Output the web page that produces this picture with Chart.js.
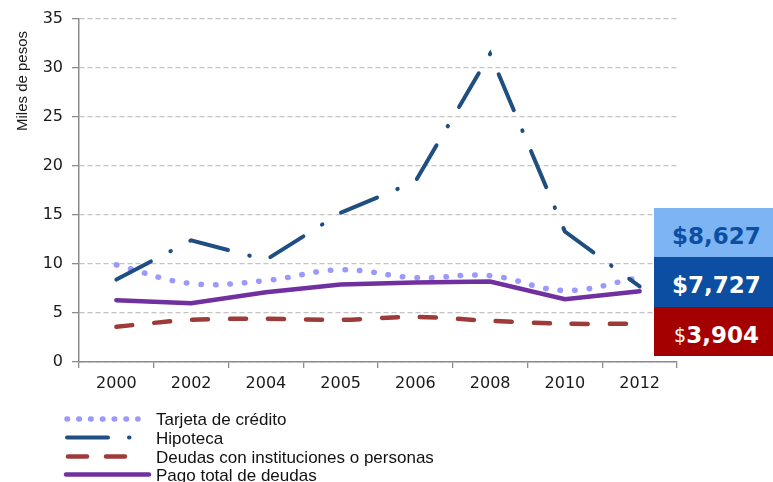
<!DOCTYPE html>
<html>
<head>
<meta charset="utf-8">
<script src="https://cdn.jsdelivr.net/npm/chart.js@4"></script>
<style>
html,body{margin:0;padding:0;background:#fff;}
#wrap{position:relative;width:773px;height:482px;overflow:hidden;}
canvas{position:absolute;left:0;top:0;}
.box{position:absolute;left:654px;width:119px;display:flex;align-items:center;justify-content:center;font-family:'DejaVu Sans',Verdana,sans-serif;font-weight:bold;font-size:23px;box-sizing:border-box;padding-top:6px;padding-left:6px;}
.small{font-weight:normal;font-size:19px;}
</style>
</head>
<body>
<div id="wrap">
<canvas id="c" width="773" height="482"></canvas>
<div class="box" style="top:208px;height:49px;background:#7db4f3;color:#0b4ea2;">$8,627</div>
<div class="box" style="top:257px;height:50px;background:#0b4ea2;color:#ffffff;">$7,727</div>
<div class="box" style="top:307px;height:49px;background:#a50000;color:#ffffff;"><span class="small">$</span>3,904</div>
</div>
<script>
// ---- data ----
const categories = ['2000', '2002', '2004', '2005', '2006', '2008', '2010', '2012'];
const tarjeta  = [9.9, 8.0, 8.3, 9.4, 8.6, 8.8, 7.3, 8.6];
const hipoteca = [8.4, 12.4, 10.4, 15.2, 18.4, 31.4, 13.3, 7.7];
const deudas   = [3.6, 4.3, 4.4, 4.3, 4.6, 4.2, 3.9, 3.9];
const pago     = [6.3, 6.0, 7.1, 7.9, 8.1, 8.2, 6.4, 7.2];
const seriesNames = ['Tarjeta de crédito', 'Hipoteca', 'Deudas con instituciones o personas', 'Pago total de deudas'];
const yTitle = 'Miles de pesos';

const tickFont = { family: "'DejaVu Sans', Verdana, sans-serif", size: 16 };

const datasets = [
  { label: seriesNames[0], data: tarjeta, borderColor: '#9999ff', borderWidth: 5.5, borderCapStyle: 'round',
    borderDash: [0.5, 14], tension: 0.4, pointRadius: 0, fill: false, order: 3,
    legendDash: [0.5, 11.3], legendFrom: 67, legendTo: 138 },
  { label: seriesNames[1], data: hipoteca, borderColor: '#1f4e80', borderWidth: 4, borderCapStyle: 'round',
    borderDash: [39, 22, 0.5, 22], tension: 0, pointRadius: 0, fill: false, order: 2,
    legendDash: [41, 21, 0.5, 30], legendFrom: 67, legendTo: 131 },
  { label: seriesNames[2], data: deudas, borderColor: '#9e3a38', borderWidth: 4.5, borderCapStyle: 'round',
    borderDash: [16, 22], tension: 0.3, pointRadius: 0, fill: false, order: 4,
    legendDash: [19, 19], legendFrom: 68, legendTo: 127 },
  { label: seriesNames[3], data: pago, borderColor: '#7030a0', borderWidth: 4.5, borderCapStyle: 'round',
    borderDash: [], tension: 0, pointRadius: 0, fill: false, order: 1,
    legendDash: [], legendFrom: 66, legendTo: 149 }
];

const legendRows = [419, 437.5, 456.5, 474.5];

const customLegend = {
  id: 'customLegend',
  afterDraw(chart) {
    const ctx = chart.ctx;
    // y axis title
    ctx.save();
    ctx.translate(23, 81);
    ctx.rotate(-Math.PI / 2);
    ctx.font = "15px 'Liberation Sans', Arial, sans-serif";
    ctx.fillStyle = '#1a1a1a';
    ctx.textAlign = 'center';
    ctx.textBaseline = 'middle';
    ctx.fillText(yTitle, 0, 0);
    ctx.restore();
    // legend
    chart.data.datasets.forEach((ds, i) => {
      const y = legendRows[i];
      ctx.save();
      ctx.strokeStyle = ds.borderColor;
      ctx.lineWidth = ds.borderWidth;
      ctx.lineCap = 'round';
      ctx.setLineDash(ds.legendDash);
      ctx.beginPath();
      ctx.moveTo(ds.legendFrom, y);
      ctx.lineTo(ds.legendTo, y);
      ctx.stroke();
      ctx.restore();
      ctx.save();
      ctx.font = "17px 'Liberation Sans', Arial, sans-serif";
      ctx.fillStyle = '#111';
      ctx.textAlign = 'left';
      ctx.textBaseline = 'alphabetic';
      ctx.fillText(ds.label, 156, y + 6);
      ctx.restore();
    });
  }
};

new Chart(document.getElementById('c'), {
  type: 'line',
  data: { labels: categories, datasets: datasets },
  options: {
    responsive: false,
    animation: false,
    layout: { padding: { left: 0, top: 17, right: 96, bottom: 90 } },
    plugins: { legend: { display: false }, tooltip: { enabled: false } },
    scales: {
      x: {
        offset: true,
        grid: { offset: true, drawOnChartArea: false, drawTicks: true, tickLength: 6, color: '#8c8c8c', lineWidth: 1.3 },
        border: { color: '#8c8c8c', width: 1.5 },
        ticks: { font: tickFont, color: '#1a1a1a', padding: 6, maxRotation: 0, autoSkip: false },
        afterFit(s) { s.height = 30; }
      },
      y: {
        min: 0, max: 35,
        ticks: { stepSize: 5, font: tickFont, color: '#1a1a1a', padding: 9 },
        grid: { color: '#c4c4c4', lineWidth: 1.3, tickLength: 7, tickColor: '#8c8c8c', tickBorderDash: [], drawTicks: true },
        border: { color: '#8c8c8c', width: 1.5, dash: [5, 3] },
        afterFit(s) { s.width = 79; }
      }
    }
  },
  plugins: [customLegend]
});
</script>
</body>
</html>
